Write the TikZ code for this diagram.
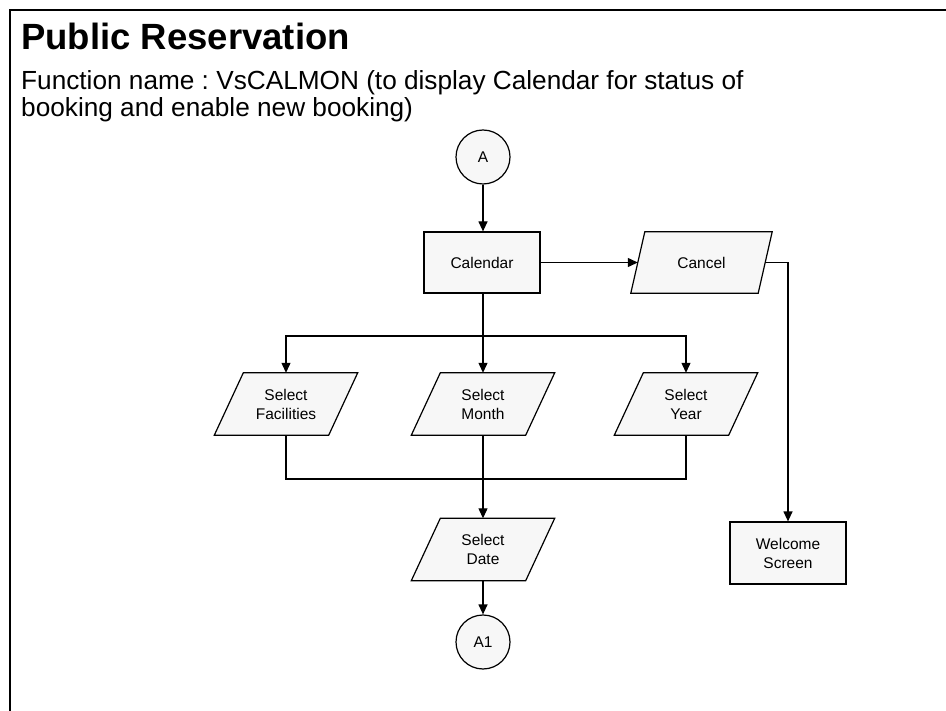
\documentclass[tikz,border=0pt]{standalone}
\usepackage{fontspec}
\setmainfont{Liberation Sans}
\usetikzlibrary{arrows.meta,backgrounds}
\definecolor{boxfill}{RGB}{247,247,247}
\begin{document}
\frenchspacing
\begin{tikzpicture}[x=1pt,y=-1pt,
  nodefont/.style={font=\fontsize{15.5}{19}\selectfont},
  procbox/.style={draw=black, line width=1.2pt, fill=boxfill, minimum width=116pt, minimum height=61pt, inner sep=0pt, align=center, nodefont},
  iobox/.style={minimum width=143pt, minimum height=62pt, inner sep=0pt, align=center, nodefont},
  iodraw/.style={draw=black, line width=1.2pt, fill=boxfill, line join=miter},
  connbox/.style={circle, draw=black, line width=1.2pt, fill=boxfill, minimum size=54pt, inner sep=0pt, nodefont},
  flow/.style={line width=1.2pt},
  arr/.style={flow, -{Triangle[length=10pt,width=9pt]}},
]
\useasboundingbox (0,0) rectangle (946,711);
\draw[line width=2pt] (10,712) -- (10,10) -- (947,10);

\node[anchor=base west, inner sep=0pt, font=\fontsize{36.5}{42}\selectfont\bfseries] (title) at (21,50) {Public Reservation};
\node[anchor=base west, inner sep=0pt, font=\fontsize{26.2}{30}\selectfont] (sub1) at (21,90) {Function name : VsCALMON (to display Calendar for status of};
\node[anchor=base west, inner sep=0pt, font=\fontsize{26.2}{30}\selectfont] (sub2) at (21,117) {booking and enable new booking)};

\node[connbox] (A) at (483,157) {A};
\node[procbox] (cal) at (482,262.5) {Calendar};
\node[iobox, minimum width=141pt, minimum height=61pt] (cancel) at (701.5,262.5) {Cancel};
\node[iobox] (fac) at (286,404) {Select\\Facilities};
\node[iobox] (mon) at (483,404) {Select\\Month};
\node[iobox] (yr) at (686,404) {Select\\Year};
\node[iobox] (dat) at (483,549.5) {Select\\Date};
\node[connbox] (A1) at (483,642) {A1};
\node[procbox, minimum height=62pt] (ws) at (788,553) {Welcome\\Screen};

\begin{scope}[on background layer]
\foreach \n/\s in {fac/29,mon/29,yr/29,dat/29,cancel/14}
  \draw[iodraw] (\n.south west) -- ([xshift=-\s pt]\n.south east) -- (\n.north east) -- ([xshift=\s pt]\n.north west) -- cycle;
\end{scope}

\coordinate (br) at (483,336);
\coordinate (mg) at (483,479);

\draw[arr] (A) -- (A |- cal.north);
\draw[arr, shorten >=-7pt] (cal) -- (cancel);
\draw[arr, shorten <=-7pt] (cancel.east) -| (ws.north);
\draw[flow] (cal.south -| br) -- (br);
\draw[arr] (br) -| (fac.north);
\draw[arr] (br) -- (mon.north);
\draw[arr] (br) -| (yr.north);
\draw[flow] (fac.south) |- (mg);
\draw[flow] (yr.south) |- (mg);
\draw[arr] (mon.south) -- (dat.north);
\draw[arr] (dat) -- (A1);
\end{tikzpicture}
\end{document}
